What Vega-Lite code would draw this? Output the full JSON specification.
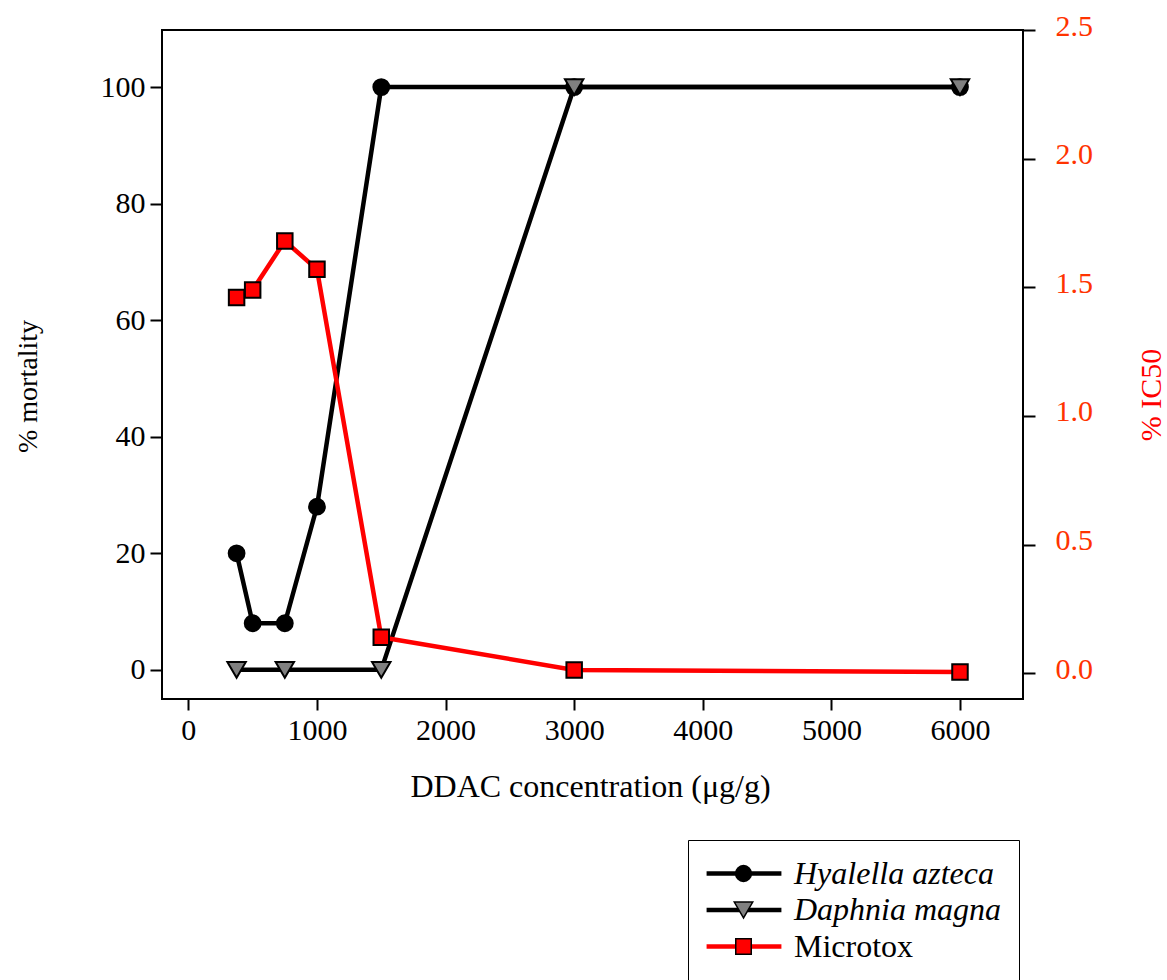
{
  "$schema": "https://vega.github.io/schema/vega-lite/v6.json",
  "width": 861,
  "height": 669,
  "autosize": "none",
  "padding": {"left": 162, "top": 30, "right": 144, "bottom": 281},
  "background": "white",
  "config": {
    "font": "Liberation Serif",
    "view": {"stroke": "black", "strokeWidth": 2},
    "axis": {
      "grid": false,
      "domain": false,
      "ticks": true,
      "tickColor": "black",
      "tickWidth": 2,
      "labelFont": "Liberation Serif",
      "labelFontSize": 30,
      "labelColor": "black",
      "titleFont": "Liberation Serif",
      "titleFontWeight": "normal",
      "titleColor": "black"
    },
    "legend": {
      "labelFont": "Liberation Serif",
      "labelFontSize": 32,
      "labelLimit": 400
    }
  },
  "datasets": {
    "mort": [
      {"conc": 375, "mortality": 20, "series": "Hyalella azteca"},
      {"conc": 500, "mortality": 8, "series": "Hyalella azteca"},
      {"conc": 750, "mortality": 8, "series": "Hyalella azteca"},
      {"conc": 1000, "mortality": 28, "series": "Hyalella azteca"},
      {"conc": 1500, "mortality": 100, "series": "Hyalella azteca"},
      {"conc": 3000, "mortality": 100, "series": "Hyalella azteca"},
      {"conc": 6000, "mortality": 100, "series": "Hyalella azteca"},
      {"conc": 375, "mortality": 0, "series": "Daphnia magna"},
      {"conc": 750, "mortality": 0, "series": "Daphnia magna"},
      {"conc": 1500, "mortality": 0, "series": "Daphnia magna"},
      {"conc": 3000, "mortality": 100, "series": "Daphnia magna"},
      {"conc": 6000, "mortality": 100, "series": "Daphnia magna"}
    ],
    "ic50": [
      {"conc": 375, "ic50": 1.46, "series": "Microtox"},
      {"conc": 500, "ic50": 1.49, "series": "Microtox"},
      {"conc": 750, "ic50": 1.68, "series": "Microtox"},
      {"conc": 1000, "ic50": 1.57, "series": "Microtox"},
      {"conc": 1500, "ic50": 0.14, "series": "Microtox"},
      {"conc": 3000, "ic50": 0.013, "series": "Microtox"},
      {"conc": 6000, "ic50": 0.005, "series": "Microtox"}
    ]
  },
  "layer": [
    {
      "data": {"name": "mort"},
      "encoding": {
        "x": {
          "field": "conc", "type": "quantitative",
          "scale": {"domain": [-205, 6490], "nice": false, "zero": false},
          "axis": {
            "values": [0, 1000, 2000, 3000, 4000, 5000, 6000],
            "format": "d",
            "tickSize": 11,
            "labelPadding": 5,
            "labelFlush": false,
            "title": "DDAC concentration (μg/g)",
            "titleFontSize": 32,
            "titleX": 428,
            "titleY": 97,
            "titleBaseline": "alphabetic",
            "titleAlign": "center"
          }
        },
        "y": {
          "field": "mortality", "type": "quantitative",
          "scale": {"domain": [-5, 109.8], "nice": false, "zero": false},
          "axis": {
            "orient": "left",
            "values": [0, 20, 40, 60, 80, 100],
            "tickSize": 12,
            "labelPadding": 5,
            "title": "% mortality",
            "titleFontSize": 28,
            "titleAngle": 270,
            "titleX": -134,
            "titleY": 356,
            "titleAlign": "center",
            "titleBaseline": "middle"
          }
        }
      },
      "layer": [
        {
          "mark": {"type": "line", "strokeWidth": 4.5},
          "encoding": {
            "stroke": {
              "field": "series", "type": "nominal",
              "scale": {"domain": ["Hyalella azteca", "Daphnia magna", "Microtox"], "range": ["#000000", "#000000", "#FF0000"]},
              "legend": {
                "orient": "none", "legendX": 526, "legendY": 810,
                "title": null,
                "padding": 17.5,
                "rowPadding": 4.5,
                "symbolType": "M-4,0L4,0",
                "symbolSize": 350,
                "symbolStrokeWidth": 4.5,
                "symbolOffset": 22.5,
                "labelOffset": 34.5,
                "labelExpr": "''",
                "labelColor": "transparent"
              }
            }
          }
        },
        {
          "mark": {"type": "point", "filled": true, "stroke": "black", "strokeWidth": 2, "opacity": 1},
          "encoding": {
            "shape": {
              "field": "series", "type": "nominal",
              "scale": {"domain": ["Daphnia magna", "Hyalella azteca", "Microtox"], "range": ["triangle-down", "circle", "square"]},
              "legend": {
                "orient": "none", "legendX": 526, "legendY": 810,
                "title": " ", "titleOrient": "bottom", "titleFontSize": 30, "titlePadding": 10,
                "values": ["Hyalella azteca", "Daphnia magna", "Microtox"],
                "padding": 17.5,
                "rowPadding": 4.5,
                "strokeColor": "black",
                "symbolOffset": 22,
                "labelOffset": 34.5,
                "labelColor": "black",
                "labelFontStyle": {"expr": "datum.label === 'Microtox' ? 'normal' : 'italic'"},
                "encode": {"symbols": {"update": {"stroke": {"value": "black"}, "strokeWidth": {"value": 2}}}}
              }
            },
            "fill": {
              "field": "series", "type": "nominal",
              "scale": {"domain": ["Daphnia magna", "Hyalella azteca", "Microtox"], "range": ["#808080", "#000000", "#FF0000"]},
              "legend": {
                "orient": "none", "legendX": 526, "legendY": 810,
                "title": " ", "titleOrient": "bottom", "titleFontSize": 30, "titlePadding": 10,
                "values": ["Hyalella azteca", "Daphnia magna", "Microtox"],
                "padding": 17.5,
                "rowPadding": 4.5,
                "strokeColor": "black",
                "symbolOffset": 22,
                "labelOffset": 34.5,
                "labelColor": "black",
                "labelFontStyle": {"expr": "datum.label === 'Microtox' ? 'normal' : 'italic'"},
                "encode": {"symbols": {"update": {"stroke": {"value": "black"}, "strokeWidth": {"value": 2}}}}
              }
            },
            "size": {
              "field": "series", "type": "nominal",
              "scale": {"type": "ordinal", "domain": ["Daphnia magna", "Hyalella azteca", "Microtox"], "range": [340, 250, 240]},
              "legend": {
                "orient": "none", "legendX": 526, "legendY": 810,
                "title": " ", "titleOrient": "bottom", "titleFontSize": 30, "titlePadding": 10,
                "values": ["Hyalella azteca", "Daphnia magna", "Microtox"],
                "padding": 17.5,
                "rowPadding": 4.5,
                "strokeColor": "black",
                "symbolOffset": 22,
                "labelOffset": 34.5,
                "labelColor": "black",
                "labelFontStyle": {"expr": "datum.label === 'Microtox' ? 'normal' : 'italic'"},
                "encode": {"symbols": {"update": {"stroke": {"value": "black"}, "strokeWidth": {"value": 2}}}}
              }
            }
          }
        }
      ]
    },
    {
      "data": {"name": "ic50"},
      "encoding": {
        "x": {"field": "conc", "type": "quantitative"},
        "y": {
          "field": "ic50", "type": "quantitative",
          "scale": {"domain": [-0.1, 2.5], "nice": false, "zero": false},
          "axis": {
            "orient": "right",
            "values": [0, 0.5, 1, 1.5, 2, 2.5],
            "format": ".1f",
            "tickSize": 12,
            "labelPadding": 20,
            "labelOffset": -4,
            "labelColor": "#FF3300",
            "title": "% IC50",
            "titleColor": "#FF0000",
            "titleFontSize": 30,
            "titleAngle": 270,
            "titleX": 128.5,
            "titleY": 364.5,
            "titleAlign": "center",
            "titleBaseline": "middle"
          }
        }
      },
      "layer": [
        {
          "mark": {"type": "line", "strokeWidth": 4.5},
          "encoding": {
            "stroke": {
              "field": "series", "type": "nominal",
              "scale": {"domain": ["Hyalella azteca", "Daphnia magna", "Microtox"], "range": ["#000000", "#000000", "#FF0000"]}
            }
          }
        },
        {
          "mark": {"type": "point", "filled": true, "stroke": "black", "strokeWidth": 2, "opacity": 1},
          "encoding": {
            "shape": {
              "field": "series", "type": "nominal",
              "scale": {"domain": ["Daphnia magna", "Hyalella azteca", "Microtox"], "range": ["triangle-down", "circle", "square"]}
            },
            "fill": {
              "field": "series", "type": "nominal",
              "scale": {"domain": ["Daphnia magna", "Hyalella azteca", "Microtox"], "range": ["#808080", "#000000", "#FF0000"]}
            },
            "size": {
              "field": "series", "type": "nominal",
              "scale": {"type": "ordinal", "domain": ["Daphnia magna", "Hyalella azteca", "Microtox"], "range": [340, 250, 240]}
            }
          }
        }
      ]
    }
  ],
  "resolve": {"scale": {"y": "independent"}}
}
